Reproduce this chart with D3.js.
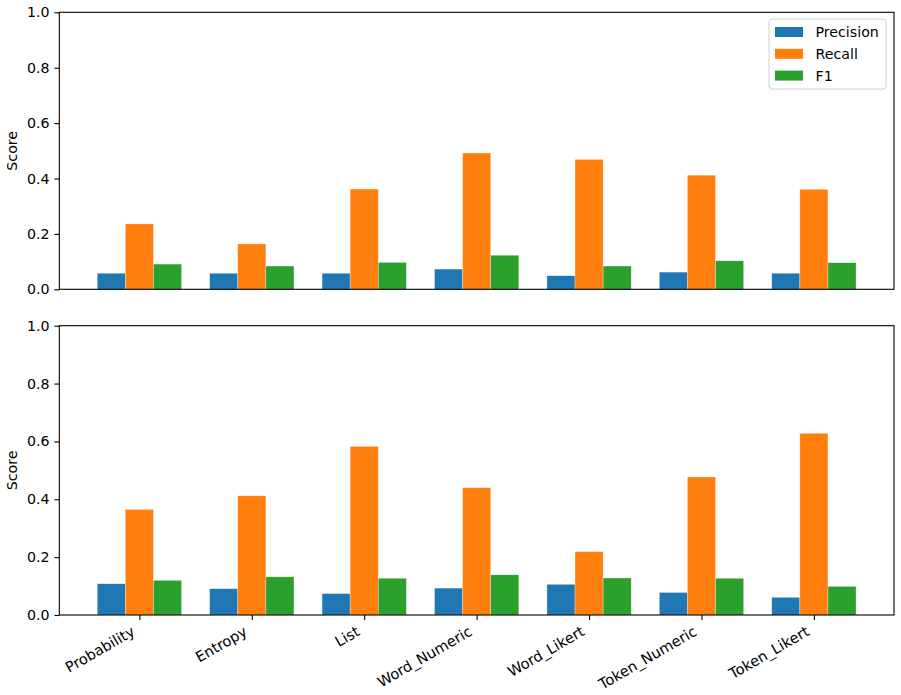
<!DOCTYPE html>
<html lang="en">
<head>
    <meta charset="UTF-8">
    <title>Precision / Recall / F1</title>
    <style>
        body {
            margin: 0;
            padding: 0;
            background-color: #ffffff;
        }
        svg text {
            font-family: "DejaVu Sans", sans-serif;
            fill: #000000;
        }
    </style>
    <script src="https://d3js.org/d3.v7.min.js"></script>
</head>
<body>
    <div id="vis"></div>
    <script>
        // data
        const methods = ["Probability", "Entropy", "List", "Word_Numeric", "Word_Likert", "Token_Numeric", "Token_Likert"];
        const metrics = ["Precision", "Recall", "F1"];
        const colors = ["#1f77b4", "#ff7f0e", "#2ca02c"];
        const yTicks = [0, 0.2, 0.4, 0.6, 0.8, 1.0];

        // top panel
        const topPrecision = [0.058, 0.058, 0.058, 0.073, 0.049, 0.062, 0.058];
        const topRecall    = [0.236, 0.164, 0.362, 0.492, 0.469, 0.412, 0.361];
        const topF1        = [0.091, 0.084, 0.097, 0.123, 0.084, 0.103, 0.096];

        // bottom panel
        const botPrecision = [0.108, 0.091, 0.074, 0.093, 0.106, 0.078, 0.061];
        const botRecall    = [0.365, 0.412, 0.583, 0.440, 0.219, 0.477, 0.628];
        const botF1        = [0.120, 0.132, 0.127, 0.139, 0.128, 0.127, 0.099];

        const width = 901, height = 695;
        const fontSize = 14.2;
        const tickLen = 4.9;
        const barW = 0.25;

        const svg = d3.select("#vis")
            .append("svg")
            .attr("width", width)
            .attr("height", height);

        const left = 59.3, right = 894;
        // matplotlib style x margins: bars span -0.375..6.375, plus 5%
        const span = (methods.length - 1) + 3 * barW;
        const xLo = -1.5 * barW - span * 0.05;
        const xHi = (methods.length - 1) + 1.5 * barW + span * 0.05;
        const x = d3.scaleLinear().domain([xLo, xHi]).range([left, right]);

        function drawPanel(top, bottom, series, showXLabels, showLegend) {
            const y = d3.scaleLinear().domain([0, 1]).range([bottom, top]);
            const g = svg.append("g");

            // bars
            series.forEach((vals, si) => {
                g.selectAll(null)
                    .data(vals)
                    .enter().append("rect")
                    .attr("x", (d, i) => x(i + (si - 1) * barW - barW / 2))
                    .attr("width", x(barW) - x(0))
                    .attr("y", d => y(d))
                    .attr("height", d => y(0) - y(d))
                    .attr("fill", colors[si])
                    .attr("stroke", "#ffffff")
                    .attr("stroke-opacity", 0.5)
                    .attr("stroke-width", 0.6);
            });

            // y axis
            const yAxis = d3.axisLeft(y)
                .tickValues(yTicks)
                .tickFormat(d3.format(".1f"))
                .tickSize(tickLen)
                .tickPadding(4.9);
            const ya = g.append("g")
                .attr("transform", `translate(${left},0)`)
                .call(yAxis);
            ya.select(".domain").remove();
            ya.selectAll("line").attr("stroke", "#000").attr("stroke-width", 1.1);
            ya.selectAll("text")
                .style("font-size", fontSize + "px")
                .style("font-family", "DejaVu Sans, sans-serif")
                .attr("fill", "#000");

            // x axis
            const xAxis = d3.axisBottom(x)
                .tickValues(d3.range(methods.length))
                .tickFormat(i => showXLabels ? methods[i] : "")
                .tickSize(showXLabels ? tickLen : 0);
            const xa = g.append("g")
                .attr("transform", `translate(0,${bottom})`)
                .call(xAxis);
            xa.select(".domain").remove();
            xa.selectAll("line").attr("stroke", "#000").attr("stroke-width", 1.1);
            xa.selectAll("text")
                .style("font-size", "14.6px")
                .style("font-family", "DejaVu Sans, sans-serif")
                .attr("fill", "#000")
                .attr("text-anchor", "end")
                .attr("dy", null)
                .attr("y", 0)
                .attr("transform", "translate(-4,19.5) rotate(-30)");

            // frame
            g.append("rect")
                .attr("x", left)
                .attr("y", top)
                .attr("width", right - left)
                .attr("height", bottom - top)
                .attr("fill", "none")
                .attr("stroke", "#000")
                .attr("stroke-width", 1.1);

            // y label
            g.append("text")
                .attr("transform", `translate(17,${(top + bottom) / 2}) rotate(-90)`)
                .attr("text-anchor", "middle")
                .style("font-size", fontSize + "px")
                .text("Score");

            if (showLegend) {
                const lg = g.append("g").attr("transform", "translate(769,19)");
                lg.append("rect")
                    .attr("width", 117)
                    .attr("height", 70)
                    .attr("rx", 3)
                    .attr("fill", "#ffffff")
                    .attr("fill-opacity", 0.8)
                    .attr("stroke", "#d0d0d0")
                    .attr("stroke-width", 1);
                metrics.forEach((m, i) => {
                    lg.append("rect")
                        .attr("x", 6)
                        .attr("y", 8 + i * 21.8)
                        .attr("width", 28)
                        .attr("height", 10)
                        .attr("fill", colors[i]);
                    lg.append("text")
                        .attr("x", 46.5)
                        .attr("y", 13 + i * 21.8)
                        .attr("dy", "0.36em")
                        .style("font-size", fontSize + "px")
                        .text(m);
                });
            }
        }

        drawPanel(12.3, 289.3, [topPrecision, topRecall, topF1], false, true);
        drawPanel(325.7, 615, [botPrecision, botRecall, botF1], true, false);
    </script>
</body>
</html>
